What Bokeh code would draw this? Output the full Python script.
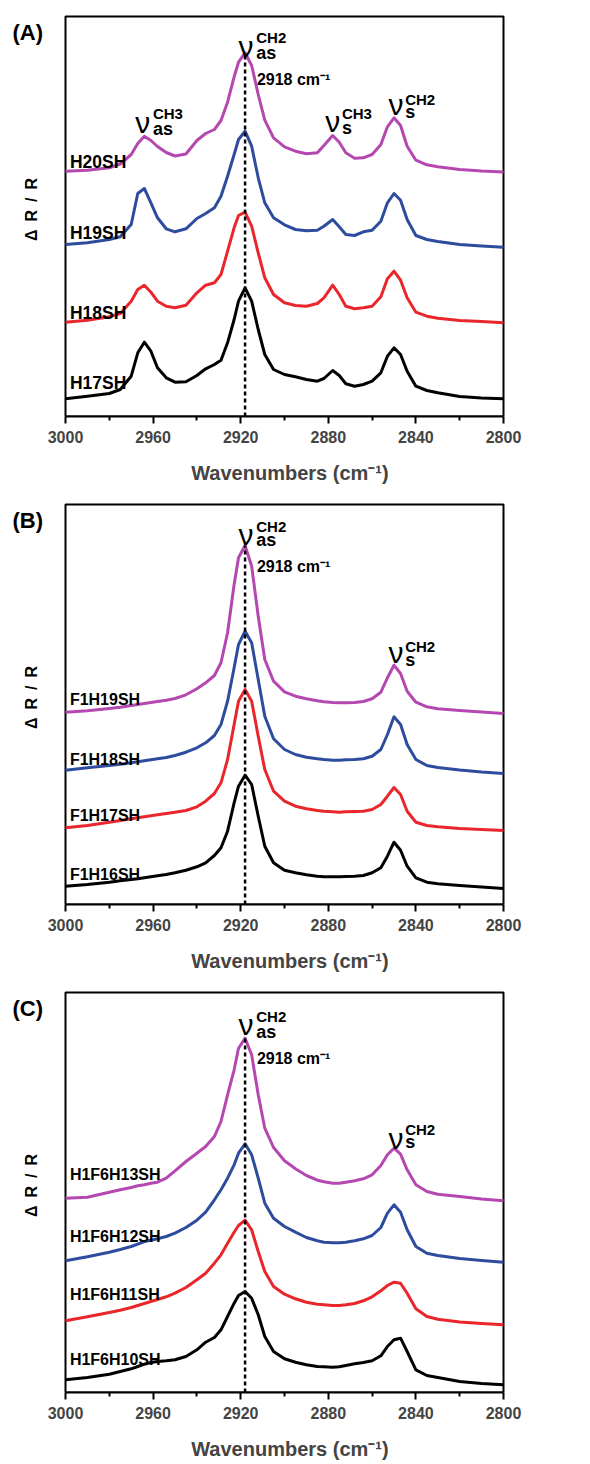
import math
from bokeh.plotting import figure
from bokeh.layouts import column
from bokeh.models import Range1d, FixedTicker
from bokeh.core.properties import value
from bokeh.embed import file_html
from bokeh.resources import INLINE

# ---------------- data ----------------
WN = [3000, 2990, 2980, 2975, 2970, 2967, 2964, 2961, 2958, 2954,
      2950, 2945, 2940, 2936, 2932, 2929, 2926, 2923, 2921, 2918,
      2915, 2912, 2909, 2905, 2900, 2895, 2890, 2885, 2882, 2878,
      2875, 2872, 2868, 2864, 2860, 2856, 2853, 2850, 2847, 2844,
      2840, 2835, 2830, 2820, 2810, 2800]

# Panel A (offset spectra, arbitrary units)
H17SH = [17.7, 20.3, 23, 27, 40.3, 63.7, 74.3, 65.3, 48.7, 38.7,
         34.3, 34.7, 41, 47.7, 52, 56.3, 73.7, 97, 115.3, 128.7,
         115.3, 87, 62, 47, 42, 39.7, 37, 35.3, 38, 46,
         41, 32.7, 30.3, 32, 35.3, 43.7, 60.3, 68.7, 62, 45.3,
         30.3, 26, 23.7, 20, 18.5, 17.7]
H18SH = [94.3, 96.3, 99.7, 103, 115.3, 127, 131.3, 124.3, 115.3, 110.3,
         108.7, 111.3, 123.7, 131.3, 133.7, 142, 165.3, 188.7, 201, 204.3,
         190.3, 163.7, 138.7, 122, 113.7, 111, 110.3, 113, 118.7, 131.3,
         122, 110.3, 107.7, 108.7, 110.3, 119.7, 137.7, 145.3, 136.3, 118.7,
         104.3, 100.3, 98.3, 96, 95, 93.7]
H19SH = [172, 173.7, 177, 179.7, 192, 223, 228, 213.7, 198.7, 187.7,
         184.7, 187.7, 198, 203, 208.7, 220.3, 240.3, 262, 277, 285.3,
         270.3, 238.7, 213.7, 198.7, 191.7, 187, 185.7, 186.3, 190.3, 197,
         189.7, 182, 181, 184.7, 186.3, 195.3, 213.7, 223, 216.3, 197,
         181, 177, 175, 172, 170.5, 169.3]
H20SH = [245.3, 246.3, 248.7, 252.5, 262, 273, 280.3, 276, 270, 264,
         260.5, 262.5, 276, 283, 287, 296, 314.3, 339.7, 354.3, 363.7,
         351, 322, 296.3, 278.7, 269.7, 265.3, 262.7, 263.7, 271, 281,
         274.3, 263.7, 258.3, 258.7, 262, 272, 289.7, 298.7, 291, 270.3,
         256.3, 251.7, 249.7, 247, 245.5, 244.5]

# Panel B
F1H16SH = [18.3, 20, 22.3, 23.7, 25, 25.7, 26.7, 27.7, 28.7, 30,
           31.7, 34.3, 37.7, 41.7, 49, 56.7, 73.3, 101.7, 118.3, 129.3,
           120, 88.3, 58.3, 41.7, 34.3, 31.7, 29.7, 28.3, 27.7, 27.7,
           27.7, 28, 28.3, 29, 31.7, 36.7, 48.3, 62.3, 54.3, 38.3,
           26.7, 22.3, 20.7, 19, 17.5, 16]
F1H17SH = [76.7, 79, 82.3, 84, 85.7, 86.7, 87.7, 88.7, 89.7, 91,
           92.3, 94, 97.7, 103.3, 111, 121.7, 145, 180, 203.3, 215,
           203.3, 168.3, 135, 113.3, 103.3, 98.3, 95.7, 94, 93.3, 92.7,
           92.3, 92.7, 93, 93.3, 95, 100, 108.3, 117, 110, 93.3,
           82.3, 79, 77.7, 76, 75, 74]
F1H18SH = [134.3, 136.7, 139, 140.3, 141.7, 142.7, 143.7, 144.7, 145.7, 147,
           149, 152.3, 156.7, 161.7, 169, 180, 203.3, 236.7, 260, 273.3,
           261.7, 225, 188.3, 165.7, 155, 150, 147.3, 145.7, 145, 144.3,
           144.3, 144.7, 145, 145.7, 148.3, 155, 170, 187.7, 180, 160,
           145, 139, 137, 134.5, 132.5, 131]
F1H19SH = [192.3, 193.7, 196, 197.3, 199, 200, 201, 202, 203, 204.3,
           206, 209.7, 215.7, 221.7, 229, 241.7, 271.7, 320, 346.7, 359,
           338.3, 288.3, 245, 223.3, 212.7, 208.3, 205.7, 203.7, 202.7, 202,
           201.7, 201.7, 202, 203, 205.7, 212.3, 226.7, 239.3, 231, 213.3,
           202.3, 197.7, 195.7, 194, 192.5, 191]

# Panel C
H1F6H10SH = [12.7, 15, 18.3, 21, 23.7, 26, 28.3, 30, 31, 31.7,
             32.7, 36, 42.7, 50.3, 55, 62.7, 76, 89.3, 97, 101,
             94.3, 77.7, 56, 41, 33.7, 30.3, 27.7, 26, 25.7, 25.3,
             25.7, 27, 28.7, 30, 31.7, 36.7, 46, 52.7, 54.3, 41,
             22.7, 17, 15, 11, 9, 7.7]
H1F6H11SH = [71.7, 75.7, 80, 82.3, 85, 87, 89, 91, 93, 95.7,
             99.3, 105, 112.7, 119.3, 129.3, 137.7, 149.3, 160.3, 167, 172.3,
             162.7, 141, 121, 106, 98.3, 93.7, 90.3, 88.3, 87.7, 87,
             87, 87.7, 89, 91.7, 95.7, 101.7, 107, 110.3, 109.3, 99.3,
             83.7, 76, 73.3, 70.5, 69, 67.7]
H1F6H12SH = [131.7, 135.7, 140.3, 143, 146, 148.3, 151, 152.3, 153.7, 156,
             159.3, 165, 172.3, 180.3, 192.7, 202.7, 214.3, 227.7, 239.3, 248.7,
             237.7, 214.3, 189.3, 174.3, 166, 160.3, 155, 151.7, 150.3, 149.7,
             149.7, 150.3, 151.7, 153.7, 157, 165, 179.3, 187.7, 180.3, 162.7,
             146, 139.3, 137, 134, 132, 130.3]
H1F6H13SH = [194.3, 195.3, 200.3, 202.7, 205, 206.7, 207.7, 209.3, 210.3, 214.3,
             221.7, 231, 239.3, 246, 256, 271, 297.7, 322.7, 344.3, 354.3,
             337.7, 297.7, 264.3, 245, 231.7, 223.7, 217, 212.3, 210.7, 209.3,
             209.3, 210.3, 211.7, 213.7, 217.7, 227, 237.7, 244.3, 238.3, 222.7,
             207.7, 201, 198.3, 196, 193.5, 191.7]

NAMES_A = ["H17SH", "H18SH", "H19SH", "H20SH"]
NAMES_B = ["F1H16SH", "F1H17SH", "F1H18SH", "F1H19SH"]
NAMES_C = ["H1F6H10SH", "H1F6H11SH", "H1F6H12SH", "H1F6H13SH"]

MAJOR_TICKS = [3000, 2960, 2920, 2880, 2840, 2800]
MINOR_TICKS = [2980, 2940, 2900, 2860, 2820]
PEAK = 2918

# ---------------- styling / geometry ----------------
FONT = "Liberation Sans"
COLORS = ["#000000", "#E8262B", "#2E4C9E", "#B548B0"]  # bottom -> top
W, H = 590, 488
LEFT_PX, BOX_W_PX, BOTTOM_PX, BOX_H = 65, 438, 72, 400
PX_PER_UNIT = BOX_W_PX / 200.0
X_START = 3000 + LEFT_PX / PX_PER_UNIT
X_END = X_START - W / PX_PER_UNIT
Y_TOP = H - BOTTOM_PX


def px_to_x(px):
    return X_START - px / PX_PER_UNIT


def txt(p, x, y, s, size, bold=True, align="left", baseline="alphabetic", angle=0.0):
    p.text(x=[x], y=[y], text=[s], text_font=value(FONT),
           text_font_size=value(f"{size}px"),
           text_font_style="bold" if bold else "normal",
           text_align=align, text_baseline=baseline, angle=angle, text_color="#000000")


def make_panel(tag, names, series, label_y, label_size, annots):
    p = figure(width=W, height=H, x_range=Range1d(X_START, X_END), y_range=Range1d(0, Y_TOP),
               output_backend="svg", toolbar_location=None, y_axis_location=None,
               min_border_left=0, min_border_right=0, min_border_top=0,
               min_border_bottom=BOTTOM_PX)
    p.background_fill_color = "white"
    p.border_fill_color = "white"
    p.outline_line_color = None
    p.xgrid.visible = False
    p.ygrid.visible = False

    xa = p.xaxis[0]
    xa.bounds = (2800, 3000)
    xa.ticker = FixedTicker(ticks=MAJOR_TICKS, minor_ticks=MINOR_TICKS)
    xa.axis_label = "Wavenumbers (cm⁻¹)\u00a0\u00a0"
    xa.axis_label_text_font = FONT
    xa.axis_label_text_font_style = "bold"
    xa.axis_label_text_font_size = "20px"
    xa.axis_label_standoff = 16
    xa.major_label_text_font = FONT
    xa.major_label_text_font_style = "bold"
    xa.major_label_text_font_size = "16px"
    xa.major_label_standoff = 7
    xa.axis_line_width = 2
    xa.major_tick_in = 0
    xa.major_tick_out = 7
    xa.minor_tick_in = 0
    xa.minor_tick_out = 4
    xa.major_tick_line_width = 2
    xa.minor_tick_line_width = 2

    # plot box
    p.quad(left=[3000], right=[2800], bottom=[0], top=[BOX_H], fill_color=None,
           line_color="black", line_width=2)

    for ys, c in zip(series, COLORS):
        p.line(WN, ys, line_color=c, line_width=3, line_join="round")

    top = series[-1][WN.index(PEAK)]
    p.line([PEAK, PEAK], [0, top], line_color="black", line_width=2.5, line_dash="4 3")

    for n, ly in zip(names, label_y):
        txt(p, 2998, ly, n, label_size)

    for (x, y, s, size, bold, align) in annots:
        txt(p, x, y, s, size, bold, align)

    # y-axis title and panel tag
    txt(p, px_to_x(31), 207, "Δ\u2002R\u2002/\u2002R", 16, True, "center", "middle", math.pi / 2)
    txt(p, px_to_x(12), 384, tag, 22, True, "left", "middle")
    return p


def nu_group(xc, xl, y_nu, y_sup, y_sub, sup, sub):
    return [(xc, y_nu, "ν", 30, False, "center"),
            (xl, y_sup, sup, 15, True, "left"),
            (xl, y_sub, sub, 18, True, "left")]


ann_a = (nu_group(2917.6, 2912.9, 370, 379, 364, "CH2", "as")
         + [(2912.6, 337, "2918 cm⁻¹", 16, True, "left")]
         + nu_group(2964.7, 2960.1, 294, 303, 288, "CH3", "as")
         + nu_group(2878.0, 2873.8, 295, 303, 289, "CH3", "s")
         + nu_group(2849.1, 2844.9, 312, 317, 305, "CH2", "s"))
ann_b = (nu_group(2917.6, 2912.9, 370, 378, 365, "CH2", "as")
         + [(2912.6, 338, "2918 cm⁻¹", 16, True, "left")]
         + nu_group(2849.1, 2844.9, 252, 258, 245, "CH2", "s"))
ann_c = (nu_group(2917.6, 2912.9, 368, 376, 361, "CH2", "as")
         + [(2912.6, 334, "2918 cm⁻¹", 16, True, "left")]
         + nu_group(2849.1, 2844.9, 254, 263, 251, "CH2", "s"))

pa = make_panel("(A)", NAMES_A, [H17SH, H18SH, H19SH, H20SH], [34, 104, 184, 255], 17.5, ann_a)
pb = make_panel("(B)", NAMES_B, [F1H16SH, F1H17SH, F1H18SH, F1H19SH], [30, 89, 145, 205], 16, ann_b)
pc = make_panel("(C)", NAMES_C, [H1F6H10SH, H1F6H11SH, H1F6H12SH, H1F6H13SH], [33, 98, 156, 218], 16, ann_c)

layout = column(pa, pb, pc, spacing=0)
open("out.html", "w").write(file_html(layout, INLINE))
